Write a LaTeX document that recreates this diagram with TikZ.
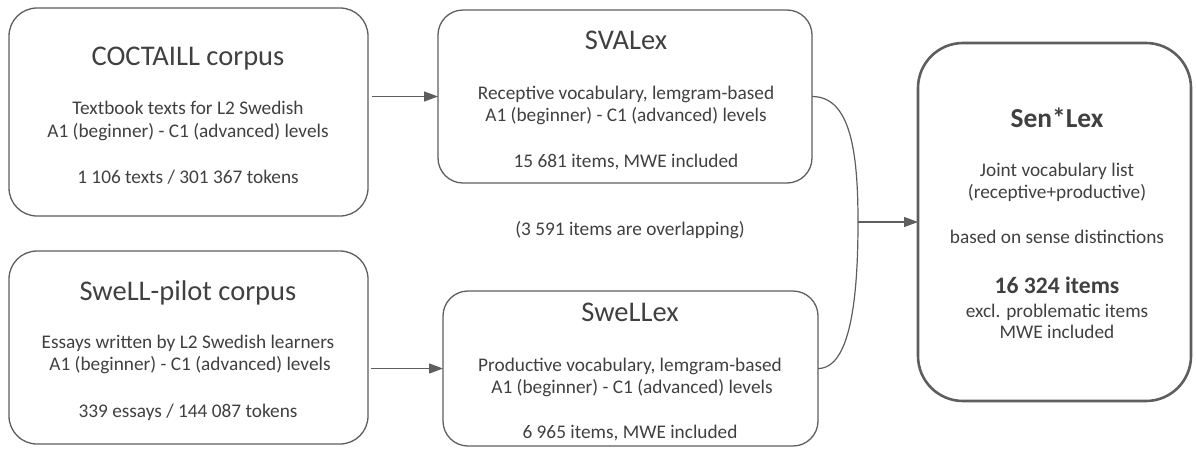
\documentclass[tikz,border=0pt]{standalone}
\usepackage{fontspec}
\setmainfont{Carlito}
\usetikzlibrary{arrows.meta}
\definecolor{txt}{HTML}{404040}
\definecolor{edge}{HTML}{5E5E5E}
\tikzset{
  box/.style={draw=edge, line width=1.3pt, rectangle, rounded corners=#1, inner sep=0pt, outer sep=0pt},
  ttl/.style={anchor=base, text=txt, font=\fontsize{28.5}{33}\selectfont, inner sep=0pt},
  bdy/.style={anchor=base, text=txt, font=\fontsize{19.3}{23}\selectfont, inner sep=0pt},
  conn/.style={draw=edge, line width=1.2pt},
  arr/.style={conn, -{Triangle[length=14pt,width=10pt]}}
}
\begin{document}
\begin{tikzpicture}[x=1pt,y=-1pt]
\useasboundingbox (0,0) rectangle (1196,448);
% boxes
\node[box=28pt, minimum width=359pt, minimum height=208pt] (coc) at (188.5,112) {};
\node[box=28pt, minimum width=359pt, minimum height=193pt] (swp) at (188.5,347.5) {};
\node[box=25pt, minimum width=374pt, minimum height=173pt] (sva) at (625,96.5) {};
\node[box=25pt, minimum width=375pt, minimum height=155pt] (swx) at (630.5,368.5) {};
\node[box=45pt, line width=2.6pt, minimum width=273pt, minimum height=358pt] (sen) at (1054.5,222) {};
% COCTAILL
\node[ttl] (cocT) at (188,65) {COCTAILL corpus};
\node[bdy] (coc1) at (188,114) {Textbook texts for L2 Swedish};
\node[bdy] (coc2) at (188,137) {A1 (beginner) - C1 (advanced) levels};
\node[bdy] (coc3) at (188,183) {1 106 texts / 301 367 tokens};
% SweLL-pilot
\node[ttl] (swpT) at (188,300) {SweLL-pilot corpus};
\node[bdy] (swp1) at (188,348) {Essays written by L2 Swedish learners};
\node[bdy] (swp2) at (190,370) {A1 (beginner) - C1 (advanced) levels};
\node[bdy] (swp3) at (188,417) {339 essays / 144 087 tokens};
% SVALex
\node[ttl] (svaT) at (626,49) {SVALex};
\node[bdy] (sva1) at (626,99) {Receptive vocabulary, lemgram-based};
\node[bdy] (sva2) at (626,121) {A1 (beginner) - C1 (advanced) levels};
\node[bdy] (sva3) at (626,167) {15 681 items, MWE included};
% overlap
\node[bdy] (ovl) at (630,235) {(3 591 items are overlapping)};
% SweLLex
\node[ttl] (swxT) at (630,321) {SweLLex};
\node[bdy] (swx1) at (630,371) {Productive vocabulary, lemgram-based};
\node[bdy] (swx2) at (632,393) {A1 (beginner) - C1 (advanced) levels};
\node[bdy] (swx3) at (630,438) {6 965 items, MWE included};
% Sen*Lex
\node[ttl, font=\fontsize{27.4}{32}\selectfont\bfseries] (senT) at (1057,127) {Sen*Lex};
\node[bdy] (sen1) at (1057,176) {Joint vocabulary list};
\node[bdy] (sen2) at (1057,198) {(receptive+productive)};
\node[bdy] (sen3) at (1057,243) {based on sense distinctions};
\node[ttl, font=\fontsize{23.6}{28}\selectfont\bfseries] (sen4) at (1057,293) {16 324 items};
\node[bdy] (sen5) at (1057,317) {excl. problematic items};
\node[bdy] (sen6) at (1057,338) {MWE included};
% connectors
\draw[arr, shorten <=4pt] (coc.east |- sva.west) -- (sva.west);
\draw[arr, shorten <=3pt] (swp.east |- swx.west) -- (swx.west);
\coordinate (m) at (858,222);
\draw[conn] (sva.east) .. controls (850,96.5) and (858,150) .. (m)
            .. controls (858,300) and (850,368.5) .. (swx.east);
\draw[arr] (m) -- (sen.west);
\end{tikzpicture}
\end{document}
